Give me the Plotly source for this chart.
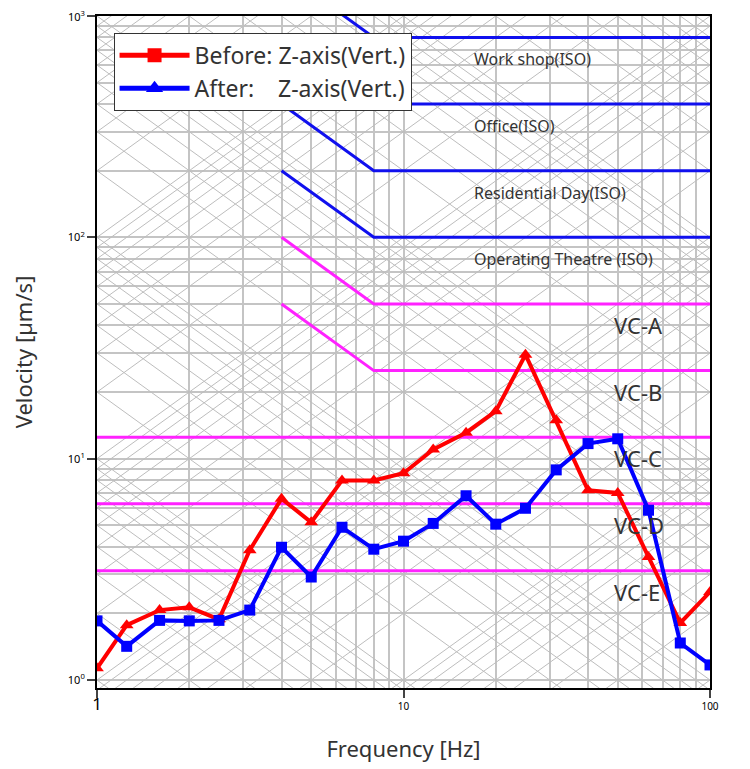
import numpy as np
import plotly.graph_objects as go

freq = [1, 1.25, 1.6, 2, 2.5, 3.15, 4, 5, 6.3, 8, 10, 12.5, 16, 20, 25, 31.5, 40, 50, 63, 80, 100]
before = [1.13, 1.77, 2.07, 2.13, 1.88, 3.86, 6.6, 5.16, 7.98, 7.98, 8.6, 11.0, 13.1, 16.4, 29.5, 14.9, 7.2, 7.0, 3.6, 1.81, 2.5]
after = [1.85, 1.42, 1.86, 1.85, 1.86, 2.07, 3.98, 2.92, 4.9, 3.9, 4.24, 5.1, 6.8, 5.06, 5.97, 8.9, 11.7, 12.3, 5.85, 1.47, 1.17]

iso_names = ["Work shop(ISO)", "Office(ISO)", "Residential Day(ISO)", "Operating Theatre (ISO)"]
iso_levels = [800, 400, 200, 100]
vc_names = ["VC-A", "VC-B", "VC-C", "VC-D", "VC-E"]
vc_levels = [50, 25, 12.5, 6.25, 3.12]
vc_sloped = [True, True, False, False, False]

fig = go.Figure()

# tripartite-style background grid
gx, gy = [], []
for k in range(-3, 6):
    for m in range(1, 10):
        c = m * 10.0 ** k
        for sgn in (1, -1):
            xs = [1, 100]
            ys = [c * x ** sgn for x in xs]
            gx += xs + [None]
            gy += ys + [None]
fig.add_trace(go.Scatter(x=gx, y=gy, mode="lines", line=dict(color="#bdbdbd", width=1),
                         hoverinfo="skip", showlegend=False))

def crit(level, sloped, color):
    if sloped:
        xs = [4, 8, 100]
        ys = [level * 2, level, level]
    else:
        xs = [1, 100]
        ys = [level, level]
    fig.add_trace(go.Scatter(x=xs, y=ys, mode="lines", line=dict(color=color, width=3),
                             hoverinfo="skip", showlegend=False))

for lv in iso_levels:
    crit(lv, True, "#1010ee")
for lv, s in zip(vc_levels, vc_sloped):
    crit(lv, s, "#ff22ff")

fig.add_trace(go.Scatter(x=freq, y=before, mode="lines+markers", line=dict(color="#ff0000", width=4),
                         marker=dict(symbol="triangle-up", size=12, color="#ff0000"), showlegend=False))
fig.add_trace(go.Scatter(x=freq, y=after, mode="lines+markers", line=dict(color="#0000ff", width=4),
                         marker=dict(symbol="square", size=11, color="#0000ff"), showlegend=False))
# legend entries (as in reference)
fig.add_trace(go.Scatter(x=[None], y=[None], mode="lines+markers", name="Before: Z-axis(Vert.)",
                         line=dict(color="#ff0000", width=5), marker=dict(symbol="square", size=14, color="#ff0000")))
fig.add_trace(go.Scatter(x=[None], y=[None], mode="lines+markers", name="After:    Z-axis(Vert.)",
                         line=dict(color="#0000ff", width=5), marker=dict(symbol="triangle-up", size=15, color="#0000ff")))

for n, lv in zip(iso_names, iso_levels):
    fig.add_annotation(x=np.log10(16.7), y=np.log10(lv), yshift=-22, text=n, showarrow=False,
                       xanchor="left", font=dict(size=16, color="#333"))
for n, lv in zip(vc_names, vc_levels):
    fig.add_annotation(x=np.log10(48), y=np.log10(lv), yshift=-21, text=n, showarrow=False,
                       xanchor="left", font=dict(size=22, color="#333"))
fig.add_annotation(xref="paper", x=0, xshift=-10, y=3, text="10<sup>3</sup>", showarrow=False,
                   xanchor="right", font=dict(size=11, color="black"))

fig.update_layout(
    width=750, height=769, plot_bgcolor="white", paper_bgcolor="white",
    margin=dict(l=89, r=48, t=8, b=89),
    font=dict(family="Noto Sans", color="#333"),
    legend=dict(x=0.027, y=0.975, xanchor="left", yanchor="top", bgcolor="white",
                bordercolor="#333", borderwidth=1, font=dict(size=23), itemwidth=70),
)
fig.update_xaxes(type="log", range=[0, 2], showgrid=True, gridcolor="#c4c4c4", gridwidth=1.5,
                 minor=dict(showgrid=True, gridcolor="#c4c4c4", gridwidth=1.5, dtick="D1"),
                 showline=True, linecolor="black", linewidth=2, automargin=False,
                 mirror=True, ticks="outside", ticklen=8, tickwidth=2,
                 tickvals=[1, 10, 100], ticktext=["<span style='font-size:17px'>1</span>", "10", "100"],
                 tickfont=dict(size=10, color="black"),
                 title=dict(text="Frequency [Hz]", font=dict(size=22), standoff=28))
fig.update_yaxes(type="log", range=[-0.036, 3], showgrid=True, gridcolor="#c4c4c4", gridwidth=1.5,
                 minor=dict(showgrid=True, gridcolor="#c4c4c4", gridwidth=1.5, dtick="D1"),
                 showline=True, linecolor="black", linewidth=2, automargin=False,
                 mirror=True, ticks="outside", ticklen=8, tickwidth=2,
                 tickvals=[1, 10, 100, 1000], ticktext=["10<sup>0</sup>", "10<sup>1</sup>", "10<sup>2</sup>", ""],
                 tickfont=dict(size=11, color="black"),
                 title=dict(text="Velocity [µm/s]", font=dict(size=22), standoff=40))
fig.write_html("out.html")
